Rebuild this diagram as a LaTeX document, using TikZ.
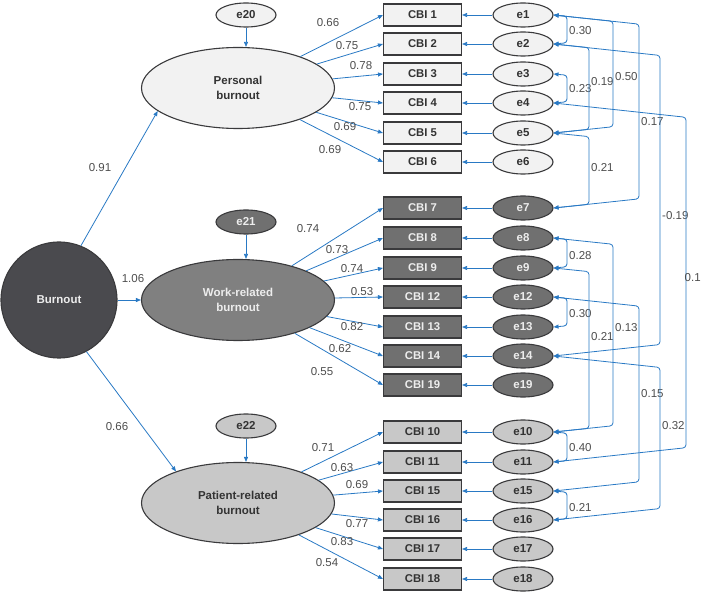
\documentclass[tikz,border=0pt]{standalone}
\usepackage{fontspec}
\setmainfont{Liberation Sans}
\usepackage{tikz}
\usetikzlibrary{arrows.meta, positioning, calc, shapes.geometric}
\definecolor{pfeil}{RGB}{41,121,196}
\definecolor{rand}{RGB}{58,58,60}
\definecolor{zahl}{RGB}{77,77,77}
\definecolor{persF}{RGB}{242,242,242}
\definecolor{workF}{RGB}{112,112,112}
\definecolor{workE}{RGB}{128,128,128}
\definecolor{patF}{RGB}{200,200,200}
\definecolor{burnF}{RGB}{74,74,78}
\tikzset{
  load/.style={draw=pfeil, line width=0.8pt, -{Triangle[length=5pt,width=4pt]}},
  cov/.style={draw=pfeil, line width=0.8pt, rounded corners=3pt,
    {Triangle[length=5pt,width=4pt]}-{Triangle[length=5pt,width=4pt]}},
  ind/.style={rectangle, draw=rand, line width=1.1pt, minimum width=78pt, minimum height=22pt,
    inner sep=0pt, font=\fontsize{11.3}{13}\selectfont\bfseries},
  err/.style={ellipse, draw=rand, line width=1.1pt, minimum width=60pt, minimum height=24pt,
    inner sep=0pt, font=\fontsize{11.5}{13}\selectfont\bfseries},
  lat/.style={ellipse, draw=rand, line width=1.1pt, minimum width=193pt, minimum height=81pt,
    inner sep=0pt, align=center, font=\fontsize{11.5}{15}\selectfont\bfseries},
  num/.style={inner sep=0pt, text=zahl, font=\fontsize{11.5}{13}\selectfont},
  persS/.style={fill=persF, text=black!80},
  workS/.style={fill=workF, text=white!93!black},
  patS/.style={fill=patF, text=black!80}
}

\begin{document}
\begin{tikzpicture}[x=1pt, y=-1pt]
    \useasboundingbox (0,0) rectangle (702,596);
    % latente Faktoren
    \node[circle, draw=rand, line width=1.1pt, fill=burnF, text=white!93!black, minimum size=116pt,
      inner sep=0pt, font=\fontsize{11.5}{13}\selectfont\bfseries] (burn) at (59,300) {Burnout};
    \node[lat, persS] (per) at (238,88) {Personal\\burnout};
    \node[lat, workS, fill=workE] (work) at (238,300) {Work-related\\burnout};
    \node[lat, patS] (pat) at (238,503) {Patient-related\\burnout};
    \node[err, persS] (e20) at (246,15) {e20};
    \node[err, workS] (e21) at (246,222) {e21};
    \node[err, patS] (e22) at (246,426) {e22};
    \draw[load] (e20) -- (e20 |- per.north);
    \draw[load] (e21) -- (e21 |- work.north);
    \draw[load] (e22) -- (e22 |- pat.north);

    \draw[load] (burn.68) -- (per.196);
    \draw[load] (burn) -- (work);
    \draw[load] (burn.298) -- (pat.153);
    \node[num] (l91) at (100,168) {0.91};
    \node[num] (l106) at (133,279) {1.06};
    \node[num] (l66) at (117,427) {0.66};

    % Items mit Fehlertermen
    \foreach \n/\y/\lx/\ly/\v in {1/15/328/23/0.66, 2/44/347/46/0.75, 3/74/361/66/0.78,
        4/103/360/107/0.75, 5/133/345/127/0.69, 6/162/330/150/0.69} {
      \node[ind, persS] (c\n) at (422.5,\y) {CBI \n};
      \node[err, persS] (e\n) at (523,\y) {e\n};
      \draw[load] (e\n) -- (c\n);
      \draw[load] (per) -- (c\n.west);
      \node[num] (l\n) at (\lx,\ly) {\v};
    }
    \foreach \n/\y/\lx/\ly/\v in {7/208/308/229/0.74, 8/238/337/250/0.73, 9/268/352/269/0.74,
        12/297/362/292/0.53, 13/327/352/327/0.82, 14/356/340/349/0.62, 19/385/322/372/0.55} {
      \node[ind, workS] (c\n) at (422.5,\y) {CBI \n};
      \node[err, workS] (e\n) at (523,\y) {e\n};
      \draw[load] (e\n) -- (c\n);
      \draw[load] (work) -- (c\n.west);
      \node[num] (l\n) at (\lx,\ly) {\v};
    }
    \foreach \n/\y/\lx/\ly/\v in {10/432/323/448/0.71, 11/462/342/468/0.63, 15/491/357/485/0.69,
        16/520/357/524/0.77, 17/549/342/542/0.83, 18/579/327/563/0.54} {
      \node[ind, patS] (c\n) at (422.5,\y) {CBI \n};
      \node[err, patS] (e\n) at (523,\y) {e\n};
      \draw[load] (e\n) -- (c\n);
      \draw[load] (pat) -- (c\n.west);
      \node[num] (l\n) at (\lx,\ly) {\v};
    }

    % Fehlerkovarianzen
    \foreach \a/\b/\cx/\ly/\v in {1/2/567/31/0.30, 3/4/567/89/0.23, 2/5/589/82/0.19,
        1/5/613/77/0.50, 5/7/589/168/0.21, 1/7/639/122/0.17, 2/14/660/216/-0.19,
        4/11/686/278/0.1, 8/9/567/256/0.28, 12/13/567/314/0.30, 9/10/589/337/0.21,
        8/10/613/328/0.13, 12/15/639/394/0.15, 14/16/660/426/0.32, 10/11/567/448/0.40,
        15/16/567/508/0.21} {
      \pgfmathsetmacro{\dy}{0.11*(\cx-556)}
      \pgfmathsetmacro{\rx}{min(\cx+2,684.5)}
      \coordinate (k\a-\b) at (\cx,0);
      \draw[cov] (e\a.east) -- ([yshift=-\dy pt]e\a.east -| k\a-\b)
        -- ([yshift=\dy pt]e\b.east -| k\a-\b) -- (e\b.east);
      \node[num, anchor=west] (r\a-\b) at (\rx,\ly) {\v};
    }
  \end{tikzpicture}
\end{document}
